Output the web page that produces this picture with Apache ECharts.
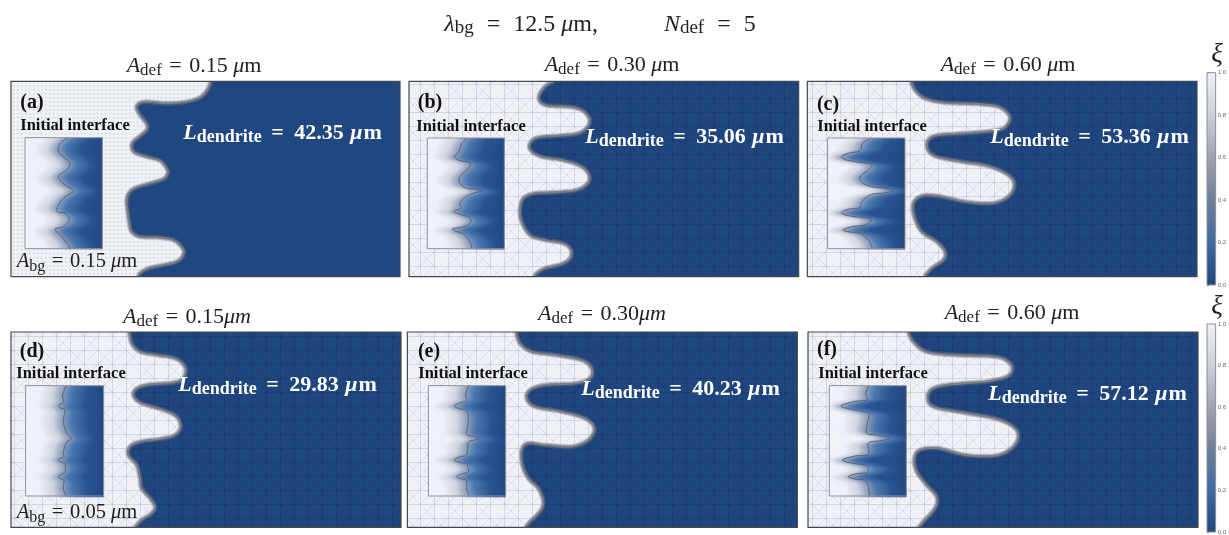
<!DOCTYPE html>
<html><head><meta charset="utf-8">
<style>html,body{margin:0;padding:0;background:#fff;overflow:hidden}#c{width:1229px;height:535px;filter:blur(0.45px)}</style>
<script src="https://cdn.jsdelivr.net/npm/echarts@6/dist/echarts.min.js"></script>
</head><body><div id="c"></div>
<script>
// ---- data (hidden axes are in 1/3 px units)
const panelNames = ['a','b','c','d','e','f'];
const defectAmps = ['0.15','0.30','0.60','0.15','0.30','0.60'];
const dendriteLengths = ['42.35','35.06','53.36','29.83','40.23','57.12'];
const colorbarTicks = [0,0.2,0.4,0.6,0.8,1];
const colorbarColors = ['#1f4680','#3e6aa3','#6f7f99','#9ea3ae','#ccd0da','#eff1f8'];

const ifaceA = [[632,244],[622,270],[600,292],[560,305],[500,310],[440,305],[415,312],[410,325],[420,345],[440,372],[440,390],[420,408],[400,425],[395,440],[405,458],[440,470],[480,482],[500,505],[503,520],[490,537],[450,550],[410,562],[390,575],[380,600],[383,635],[388,670],[395,695],[420,710],[470,712],[520,720],[548,745],[550,765],[530,785],[490,795],[445,805],[420,820],[415,830]];
const ifaceB = [[445,124],[420,140],[403,165],[405,185],[430,197],[490,200],[530,210],[553,235],[548,260],[520,280],[460,287],[400,292],[375,310],[378,332],[410,350],[480,362],[530,380],[552,405],[548,430],[515,450],[450,457],[390,460],[355,475],[345,510],[350,545],[375,585],[420,600],[475,610],[498,630],[495,655],[470,672],[420,685],[395,700],[388,710]];
const ifaceC = [[318,124],[330,150],[360,175],[420,188],[520,192],[580,200],[612,225],[610,250],[580,270],[480,280],[400,285],[370,300],[368,328],[395,350],[470,365],[550,378],[610,405],[628,435],[610,470],[560,490],[480,485],[400,468],[350,468],[325,490],[328,530],[350,575],[395,605],[420,635],[415,660],[380,685],[358,710]];
const ifaceD = [[388,111],[395,145],[420,170],[470,180],[525,190],[555,215],[553,245],[525,262],[440,270],[405,285],[402,305],[425,325],[490,345],[530,365],[542,395],[525,420],[480,432],[420,440],[390,455],[385,480],[410,510],[420,550],[425,580],[450,610],[465,635],[455,655],[425,675],[405,697]];
const ifaceE = [[333,111],[345,145],[380,170],[450,180],[530,195],[560,220],[555,250],[510,265],[420,270],[375,285],[365,310],[390,335],[470,350],[540,370],[568,400],[550,435],[500,455],[420,450],[370,445],[350,465],[352,510],[370,550],[400,580],[415,620],[405,650],[375,680],[362,697]];
const ifaceF = [[310,111],[325,140],[365,170],[450,180],[570,185],[610,200],[622,222],[605,245],[540,260],[440,268],[385,280],[368,305],[385,335],[470,352],[570,370],[625,395],[640,425],[620,460],[570,482],[480,480],[400,460],[345,465],[328,490],[335,530],[365,570],[395,605],[390,640],[355,680],[342,697]];

const insetA = [[205,413],[180,430],[175,455],[190,470],[210,490],[200,510],[175,530],[195,555],[222,572],[195,590],[175,615],[172,635],[195,640],[208,660],[190,680],[165,688],[185,710],[205,735],[208,746]];
const insetB = [[185,294],[168,315],[162,335],[150,347],[148,352],[165,362],[195,368],[190,385],[165,410],[165,430],[185,445],[210,447],[232,453],[210,458],[185,468],[165,490],[168,505],[150,510],[147,516],[165,523],[195,533],[195,550],[170,562],[143,566],[150,573],[175,582],[195,605],[200,626]];
const insetC = [[200,294],[172,310],[165,332],[130,340],[110,350],[125,360],[165,367],[200,372],[190,390],[165,410],[172,428],[200,440],[235,444],[265,452],[235,459],[200,463],[170,485],[165,503],[130,508],[110,518],[130,527],[170,532],[200,537],[180,555],[140,560],[115,570],[135,576],[165,580],[190,600],[203,626]];
const insetD = [[198,272],[188,300],[191,322],[180,327],[175,333],[183,340],[195,345],[190,380],[200,415],[208,423],[215,430],[208,436],[200,441],[190,470],[191,486],[180,490],[175,496],[183,502],[195,506],[195,530],[183,538],[175,545],[182,552],[192,556],[190,580],[198,603]];
const insetE = [[190,272],[182,300],[185,318],[165,323],[148,333],[165,342],[185,347],[190,380],[185,418],[205,423],[222,430],[205,436],[190,442],[185,478],[165,485],[148,495],[165,503],[185,507],[190,530],[172,536],[155,545],[170,552],[185,557],[185,580],[192,603]];
const insetF = [[190,272],[182,298],[187,315],[145,320],[108,333],[140,343],[175,350],[192,358],[185,395],[186,416],[215,420],[255,430],[220,438],[190,444],[190,478],[150,483],[112,495],[145,505],[180,510],[190,518],[186,533],[155,536],[130,545],[150,552],[178,556],[190,575],[193,603]];

const ifaces = [ifaceA,ifaceB,ifaceC,ifaceD,ifaceE,ifaceF];
const insets = [insetA,insetB,insetC,insetD,insetE,insetF];

// ---- layout
const frames = [
 {ox:0,oy:0,x:[33,1200],y:[244,830],box:[75,307,413,746]},
 {ox:405,oy:40,x:[12,1181],y:[124,710],box:[67,298,294,626]},
 {ox:805,oy:40,x:[7,1176],y:[124,710],box:[68,300,294,626]},
 {ox:0,oy:295,x:[33,1203],y:[111,697],box:[77,311,272,603]},
 {ox:405,oy:295,x:[7,1177],y:[111,697],box:[70,302,272,603]},
 {ox:805,oy:295,x:[9,1179],y:[111,697],box:[73,304,272,603]}
];
const titleAt = [[194,66],[612,65],[1008,65],[187,317],[602,314],[1012,313]];
const lenAt = [[283,133],[685,137],[1090,137],[278,385],[681,389],[1088,394]];
const tagAt = [[32,103],[430,103],[828,105],[32,352],[429,352],[827,350]];
const initAt = [[75,126],[471,127],[872,127],[71,374],[473,374],[873,374]];
const bgAt = [[77,262,'0.15'],[77,513,'0.05']];

// ---- mesh textures
function tile(kind, col){
  const c=document.createElement('canvas');
  if(kind==='dots'){
    c.width=c.height=4; const g=c.getContext('2d'); g.fillStyle=col; g.fillRect(1,1,1.4,1.4); return c;
  }
  const n=14,m=4; c.width=c.height=n*m; const g=c.getContext('2d');
  g.strokeStyle=col; g.lineWidth=1;
  for(let i=0;i<m;i++){
    g.beginPath();g.moveTo(i*n+.5,0);g.lineTo(i*n+.5,n*m);g.moveTo(0,i*n+.5);g.lineTo(n*m,i*n+.5);g.stroke();
  }
  g.globalAlpha=.75;
  for(let i=0;i<m;i++)for(let j=0;j<m;j++){
    g.beginPath();
    if((i+j)%2===0){g.moveTo(i*n,j*n);g.lineTo(i*n+n,j*n+n);g.moveTo(i*n+n,j*n);g.lineTo(i*n,j*n+n);}
    else if(i%2===0){g.moveTo(i*n,j*n+n);g.lineTo(i*n+n,j*n);}
    g.stroke();
  }
  return c;
}
const meshLight=tile('mesh','rgba(140,146,165,.27)'), meshBlue=tile('mesh','rgba(8,22,60,.17)');
const dotsLight=tile('dots','rgba(150,155,170,.35)'), dotsBlue=tile('dots','rgba(70,105,160,.18)');

// ---- curve helpers
function spline(pts,steps){
  const out=[];
  for(let i=0;i<pts.length-1;i++){
    const p0=pts[Math.max(i-1,0)],p1=pts[i],p2=pts[i+1],p3=pts[Math.min(i+2,pts.length-1)];
    for(let k=0;k<steps;k++){
      const t=k/steps,t2=t*t,t3=t2*t;
      out.push([
        .5*(2*p1[0]+(p2[0]-p0[0])*t+(2*p0[0]-5*p1[0]+4*p2[0]-p3[0])*t2+(3*p1[0]-p0[0]-3*p2[0]+p3[0])*t3),
        .5*(2*p1[1]+(p2[1]-p0[1])*t+(2*p0[1]-5*p1[1]+4*p2[1]-p3[1])*t2+(3*p1[1]-p0[1]-3*p2[1]+p3[1])*t3)
      ]);
    }
  }
  out.push(pts[pts.length-1]);
  return out;
}
function interfaceItem(iface,i){
  return function(params,api){
    if(params.dataIndex!==0) return null;
    const f=frames[i];
    const tl=api.coord([f.x[0],f.y[0]]), br=api.coord([f.x[1],f.y[1]]);
    const curve=spline(iface.map(p=>api.coord(p)),8);
    const closed=curve.concat([[tl[0]-5,br[1]+5],[tl[0]-5,tl[1]-5]]);
    const fine=i===0;
    return {type:'group',children:[
      {type:'rect',shape:{x:tl[0],y:tl[1],width:br[0]-tl[0],height:br[1]-tl[1]},style:{fill:'#20467f'}},
      {type:'rect',shape:{x:tl[0],y:tl[1],width:br[0]-tl[0],height:br[1]-tl[1]},style:{fill:{image:fine?dotsBlue:meshBlue,repeat:'repeat'}}},
      {type:'polygon',shape:{points:closed},style:{fill:'#eff1f7'}},
      {type:'polygon',shape:{points:closed},style:{fill:{image:fine?dotsLight:meshLight,repeat:'repeat'}}},
      {type:'polyline',shape:{points:curve},style:{fill:null,stroke:'rgba(125,128,140,.35)',lineWidth:5,lineJoin:'round'}},
      {type:'polyline',shape:{points:curve},style:{fill:null,stroke:'#7a7e89',lineWidth:2,lineJoin:'round',shadowBlur:2,shadowColor:'rgba(70,70,80,.6)'}}
    ]};
  };
}
function insetItem(inset,i){
  return function(params,api){
    if(params.dataIndex!==0) return null;
    const f=frames[i], b=f.box;
    const line=spline(inset,8);
    const xs=inset.map(p=>p[0]).slice().sort((a,c)=>a-c);
    const trunk=xs[Math.floor(xs.length*0.6)];
    const kids=[];
    const raw=[];
    for(let y=b[2];y<b[3];y+=3){
      let best=trunk;
      for(let k=0;k<line.length-1;k++){
        const a=line[k],c=line[k+1];
        if((a[1]-y)*(c[1]-y)<=0 && a[1]!==c[1]){
          const x=a[0]+(c[0]-a[0])*(y-a[1])/(c[1]-a[1]);
          if(Math.abs(x-trunk)>Math.abs(best-trunk)) best=x;
        }
      }
      raw.push(best);
    }
    // vertical softening of the field around the read interface
    const kernel=[1,2,3,4,5,4,3,2,1], kSum=25;
    const centers=raw.map((_,n)=>{
      let s=0;
      kernel.forEach((w,k)=>{s+=w*raw[Math.min(raw.length-1,Math.max(0,n+k-4))];});
      return s/kSum;
    });
    const W=b[1]-b[0];
    centers.forEach((c,n)=>{
      const y=b[2]+n*3;
      const fr=x=>Math.min(1,Math.max(0,(x-b[0])/W));
      const p0=api.coord([b[0],y]),p1=api.coord([b[1],y+3]);
      kids.push({type:'rect',shape:{x:p0[0],y:p0[1],width:p1[0]-p0[0],height:p1[1]-p0[1]+.5},style:{fill:{type:'linear',x:0,y:0,x2:1,y2:0,colorStops:[
        {offset:0,color:'#f1f3f9'},{offset:fr(c-72),color:'#eef0f7'},{offset:fr(c-32),color:'#cfd4df'},
        {offset:fr(c-6),color:'#93a3bf'},{offset:fr(c+24),color:'#4a77af'},{offset:fr(c+70),color:'#2a5491'},{offset:1,color:'#204884'}]}}});
    });
    const tlb=api.coord([b[0],b[2]]),brb=api.coord([b[1],b[3]]);
    kids.push({type:'polyline',shape:{points:line.map(p=>api.coord(p))},style:{fill:null,stroke:'#5d616c',lineWidth:1}});
    kids.push({type:'rect',shape:{x:tlb[0],y:tlb[1],width:brb[0]-tlb[0],height:brb[1]-tlb[1]},style:{fill:null,stroke:'#8f929a',lineWidth:1}});
    const tl=api.coord([f.x[0],f.y[0]]),br=api.coord([f.x[1],f.y[1]]);
    kids.push({type:'rect',shape:{x:tl[0],y:tl[1],width:br[0]-tl[0],height:br[1]-tl[1]},style:{fill:null,stroke:'#45484f',lineWidth:1.2}});
    return {type:'group',children:kids};
  };
}

// ---- text
const serif='"Liberation Serif",serif';
const mathRich={
  i:{fontFamily:serif,fontStyle:'italic',fontWeight:'normal',fontSize:22,lineHeight:26,color:'#222'},
  s:{fontFamily:serif,fontWeight:'normal',fontSize:17,lineHeight:15,verticalAlign:'bottom',color:'#222'},
  n:{fontFamily:serif,fontWeight:'normal',fontSize:22,lineHeight:26,color:'#222'},
  e:{fontFamily:serif,fontWeight:'normal',fontSize:22,lineHeight:26,color:'#222',padding:[0,2,0,2]}
};
const boldRich={
  i:{fontFamily:serif,fontStyle:'italic',fontWeight:'bold',fontSize:22,lineHeight:26,color:'#fff'},
  s:{fontFamily:serif,fontWeight:'bold',fontSize:18,lineHeight:15,verticalAlign:'bottom',color:'#fff'},
  n:{fontFamily:serif,fontWeight:'bold',fontSize:22,lineHeight:26,color:'#fff',padding:[0,1,0,1]},
  e:{fontFamily:serif,fontWeight:'bold',fontSize:22,lineHeight:26,color:'#fff',padding:[0,4,0,4]}
};
function sized(main,sub,pad){
  return {rich:Object.assign({},mathRich,{
    i:Object.assign({},mathRich.i,{fontSize:main}),n:Object.assign({},mathRich.n,{fontSize:main}),
    e:Object.assign({},mathRich.e,{fontSize:main,padding:[0,pad,0,pad]}),s:Object.assign({},mathRich.s,{fontSize:sub})})};
}
function T(text,x,y,style){
  return {text,left:x,top:y,textAlign:'center',textVerticalAlign:'middle',padding:0,textStyle:style,z:10};
}
const titles=[];
titles.push(T('{i|λ}{s|bg}{e| = }{n|12.5 }{i|μ}{n|m,           }{i|N}{s|def}{e| = }{n|5}',600,25,sized(24,19,7)));
panelNames.forEach((n,i)=>{
  const amp=defectAmps[i];
  const unit=(i===3||i===4)?`{i|μm}`:`{n| }{i|μ}{n|m}`;
  titles.push(T(`{i|A}{s|def}{e| = }{n|${amp}}${unit}`,titleAt[i][0],titleAt[i][1],{rich:mathRich}));
  titles.push(T(`{i|L}{s|dendrite}{e| = }{n|${dendriteLengths[i]} }{i|μ}{n|m}`,lenAt[i][0],lenAt[i][1],{rich:boldRich}));
  titles.push(T(`(${n})`,tagAt[i][0],tagAt[i][1],{fontFamily:serif,fontWeight:'bold',fontSize:20,color:'#111'}));
  titles.push(T('Initial interface',initAt[i][0],initAt[i][1],{fontFamily:serif,fontWeight:'bold',fontSize:16.5,color:'#111'}));
});
bgAt.forEach(b=>titles.push(T(`{i|A}{s|bg}{e| = }{n|${b[2]} }{i|μ}{n|m}`,b[0],b[1],sized(20.5,16,1.5))));
titles.push(T('ξ',1217,55,{fontFamily:serif,fontStyle:'italic',fontWeight:'normal',fontSize:27,color:'#222'}));
titles.push(T('ξ',1217,307,{fontFamily:serif,fontStyle:'italic',fontWeight:'normal',fontSize:27,color:'#222'}));

// ---- grids / axes / series
const grid=[],xAxis=[],yAxis=[],series=[];
frames.forEach((f,i)=>{
  grid.push({left:f.ox+f.x[0]/3,top:f.oy+f.y[0]/3,width:(f.x[1]-f.x[0])/3,height:(f.y[1]-f.y[0])/3});
  xAxis.push({type:'value',gridIndex:i,min:f.x[0],max:f.x[1],show:false});
  yAxis.push({type:'value',gridIndex:i,min:f.y[0],max:f.y[1],inverse:true,show:false});
  series.push({type:'custom',name:'interface '+panelNames[i],xAxisIndex:i,yAxisIndex:i,clip:true,silent:true,data:ifaces[i],renderItem:interfaceItem(ifaces[i],i)});
  series.push({type:'custom',name:'initial '+panelNames[i],xAxisIndex:i,yAxisIndex:i,clip:false,silent:true,data:insets[i],renderItem:insetItem(insets[i],i)});
});
[[72.7,212.3],[324,211]].forEach((b,k)=>{
  const gi=frames.length+k;
  grid.push({left:1207,top:b[0],width:10.5,height:b[1]});
  xAxis.push({type:'value',gridIndex:gi,min:0,max:1,show:false});
  yAxis.push({type:'value',gridIndex:gi,min:0,max:1,interval:0.2,position:'right',splitLine:{show:false},
    axisLine:{show:true,lineStyle:{color:'#888',width:1}},axisTick:{show:true,length:2,lineStyle:{color:'#777',width:1}},
    axisLabel:{fontSize:6,margin:2,color:'#666',fontFamily:'"Liberation Sans",sans-serif',formatter:v=>v.toFixed(1)}});
  series.push({type:'custom',xAxisIndex:gi,yAxisIndex:gi,silent:true,clip:false,data:colorbarTicks.map(t=>[0,t]),
    renderItem(params,api){
      if(params.dataIndex!==0) return null;
      const a=api.coord([0,1]),c=api.coord([1,0]);
      return {type:'rect',shape:{x:a[0],y:a[1],width:c[0]-a[0],height:c[1]-a[1]},style:{stroke:'#8b8d92',lineWidth:1,
        fill:{type:'linear',x:0,y:1,x2:0,y2:0,colorStops:colorbarTicks.map((t,n)=>({offset:t,color:colorbarColors[n]}))}}};
    }});
});

const chart=echarts.init(document.getElementById('c'),null,{renderer:'canvas'});
chart.setOption({animation:false,backgroundColor:'#fff',title:titles,grid,xAxis,yAxis,series,tooltip:{show:false}});
</script></body></html>
